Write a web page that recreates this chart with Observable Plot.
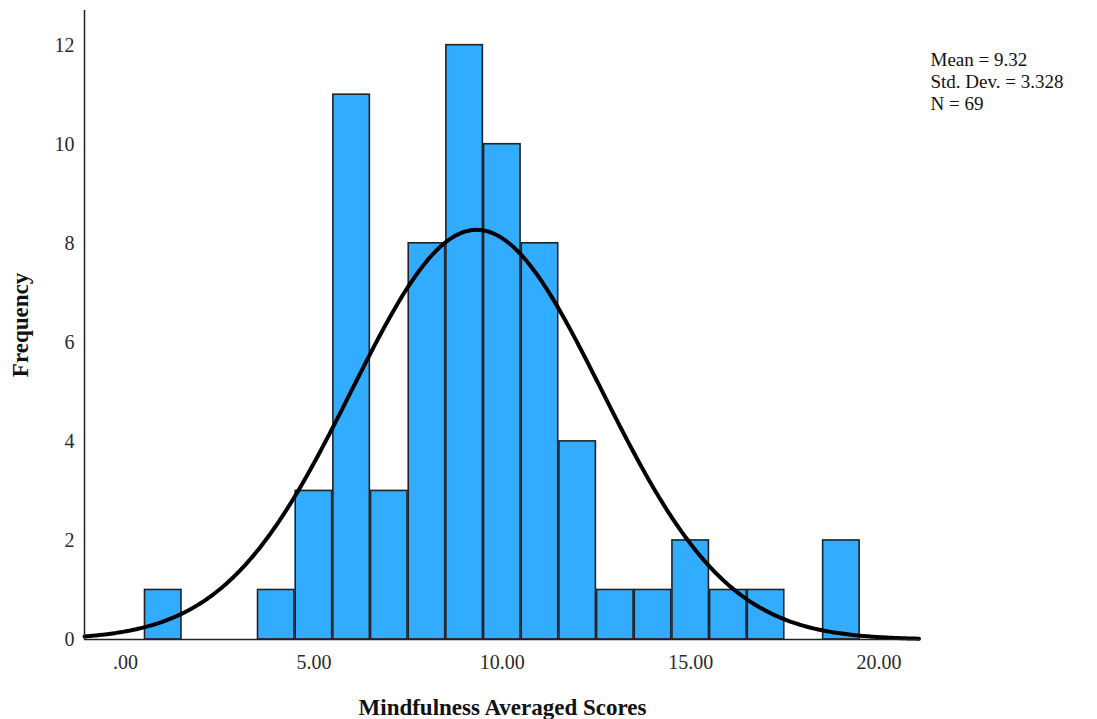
<!DOCTYPE html>
<html>
<head>
<meta charset="utf-8">
<script src="https://cdn.jsdelivr.net/npm/d3@7"></script>
<script src="https://cdn.jsdelivr.net/npm/@observablehq/plot@0.6"></script>
<style>
  html, body { margin: 0; padding: 0; background: #fff; }
  #chart svg { display: block; overflow: visible; }
</style>
</head>
<body>
<div id="chart"></div>
<script>
// Histogram bins (centre of each one-point-wide bin) and their counts
const binCenters  = [1, 4, 5, 6, 7, 8, 9, 10, 11, 12, 13, 14, 15, 16, 17, 19];
const frequencies = [1, 1, 3, 11, 3, 8, 12, 10, 8, 4, 1, 1, 2, 1, 1, 2];
const binWidth = 1;

// Summary statistics shown in the legend
const mean = 9.32;
const stdDev = 3.328;
const n = 69;

const xTicks = [0, 5, 10, 15, 20];
const yTicks = [0, 2, 4, 6, 8, 10, 12];

const xDomain = [-1.09, 21.1];
const yDomain = [0, 12.7];

const bars = binCenters.map((c, i) => ({
  x1: c - binWidth / 2,
  x2: c + binWidth / 2,
  count: frequencies[i]
}));

// Fitted normal curve, scaled to counts per bin
const curve = d3.range(xDomain[0], xDomain[1] + 0.001, 0.05).map(x => ({
  x,
  y: n * binWidth * Math.exp(-0.5 * ((x - mean) / stdDev) ** 2) / (stdDev * Math.sqrt(2 * Math.PI))
}));

const serif = "'Liberation Serif', 'Times New Roman', serif";

const chart = Plot.plot({
  width: 1097,
  height: 719,
  marginLeft: 84,
  marginRight: 177,
  marginTop: 10,
  marginBottom: 80,
  style: { fontFamily: serif, fontSize: "20px", color: "#2a2a2a", background: "#fff" },
  x: { domain: xDomain, ticks: xTicks, tickSize: 0, tickPadding: 15,
       tickFormat: d => d === 0 ? ".00" : d.toFixed(2), label: null },
  y: { domain: yDomain, ticks: yTicks, tickSize: 0, tickPadding: 10,
       tickFormat: d => String(d), label: null },
  marks: [
    Plot.rectY(bars, { x1: "x1", x2: "x2", y: "count", fill: "#31acff",
                       stroke: "#222", strokeWidth: 1.6, insetLeft: 0.6, insetRight: 0.6 }),
    Plot.line(curve, { x: "x", y: "y", stroke: "#000", strokeWidth: 4, curve: "basis" }),
    Plot.ruleX([xDomain[0]], { stroke: "#222", strokeWidth: 1.5 }),
    Plot.ruleY([0], { stroke: "#222", strokeWidth: 1.5 }),
    Plot.text(["Mindfulness Averaged Scores"], { frameAnchor: "bottom", dy: 68,
      textAnchor: "middle", lineAnchor: "middle",
      fontWeight: "bold", fontSize: 23, fill: "#111" }),
    Plot.text(["Frequency"], { frameAnchor: "left", dx: -64, rotate: -90,
      textAnchor: "middle", lineAnchor: "middle",
      fontWeight: "bold", fontSize: 23, fill: "#111" }),
    Plot.text([`Mean = ${mean.toFixed(2)}\nStd. Dev. = ${stdDev.toFixed(3)}\nN = ${n}`], {
      frameAnchor: "top-right", dx: 10, dy: 40, textAnchor: "start", lineAnchor: "top",
      lineHeight: 1.15, fontSize: 19, fill: "#111" })
  ]
});

document.getElementById("chart").appendChild(chart);
</script>
</body>
</html>
